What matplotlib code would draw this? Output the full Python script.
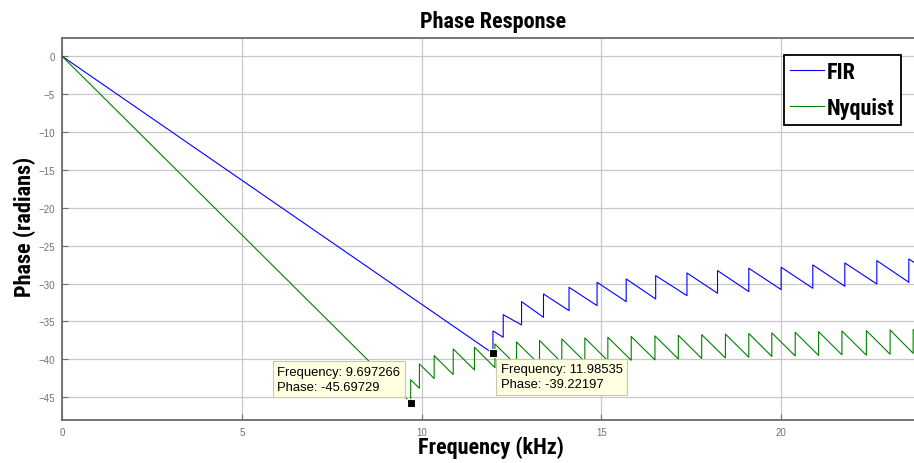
import matplotlib.pyplot as plt
from matplotlib import font_manager

# FIR: straight passband line, then sawtooth in the stopband
FIR_START = (0.0, 0.0)
FIR_JUMPS = [11.985, 12.27, 12.78, 13.39, 14.10, 14.88, 15.69, 16.51, 17.38, 18.23,
             19.10, 20.00, 20.88, 21.77, 22.66, 23.55]
FIR_LOWS = [-39.22, -37.08, -35.46, -34.45, -33.57, -32.91, -32.38, -32.03, -31.59, -31.28,
            -31.06, -30.80, -30.62, -30.35, -30.05, -29.83]
FIR_HIGHS = [-36.25, -34.10, -32.38, -31.37, -30.49, -29.83, -29.39, -28.95, -28.60, -28.29,
             -27.98, -27.85, -27.54, -27.28, -26.97, -26.75]
FIR_END = (24.0, -28.2)

# Nyquist filter
NYQ_START = (0.0, 0.0)
NYQ_JUMPS = [9.697, 9.94, 10.35, 10.88, 11.47, 12.04, 12.64, 13.28, 13.90, 14.54, 15.18, 15.83,
             16.49, 17.14, 17.79, 18.45, 19.10, 19.74, 20.39, 21.04, 21.69, 22.37, 23.03, 23.67]
NYQ_LOWS = [-45.70, -43.81, -42.53, -42.01, -41.40, -41.09, -40.80, -40.70, -40.45, -40.30,
            -40.18, -40.12, -40.07, -39.95, -39.88, -39.82, -39.72, -39.62, -39.55, -39.48,
            -39.40, -39.45, -39.33, -39.20]
NYQ_HIGHS = [-42.68, -40.60, -39.51, -38.62, -38.40, -37.97, -37.70, -37.50, -37.30, -37.17,
             -37.08, -36.98, -36.90, -36.82, -36.74, -36.66, -36.58, -36.50, -36.42, -36.34,
             -36.26, -36.20, -36.12, -36.08]
NYQ_END = (24.0, -37.6)

# data tips
TIP1 = (9.697266, -45.69729)
TIP2 = (11.98535, -39.22197)

X_TICKS = [0, 5, 10, 15, 20]
Y_TICKS = [0, -5, -10, -15, -20, -25, -30, -35, -40, -45]

# narrow bold font for title / labels / legend, if there is one
installed = {f.name for f in font_manager.fontManager.ttflist}
LABEL_FONT, LABEL_SIZE = 'DejaVu Sans', 12
for name in ['Roboto Condensed', 'Liberation Sans Narrow']:
    if name in installed:
        LABEL_FONT, LABEL_SIZE = name, 16
        break
TICK_FONT = ['Liberation Sans', 'DejaVu Sans']


def build_curve(start, jumps, lows, highs, end):
    xs = [start[0]]
    ys = [start[1]]
    for f, lo, hi in zip(jumps, lows, highs):
        xs += [f, f]
        ys += [lo, hi]
    xs.append(end[0])
    ys.append(end[1])
    return xs, ys


fig = plt.figure(figsize=(9.14, 4.64), dpi=100)
ax = fig.add_axes([62 / 914, 43 / 464, 863 / 914, 382 / 464])

fx, fy = build_curve(FIR_START, FIR_JUMPS, FIR_LOWS, FIR_HIGHS, FIR_END)
nx, ny = build_curve(NYQ_START, NYQ_JUMPS, NYQ_LOWS, NYQ_HIGHS, NYQ_END)
ax.plot(fx, fy, color='#0000ff', lw=0.8, label='FIR', zorder=3)
ax.plot(nx, ny, color='#008000', lw=0.8, label='Nyquist', zorder=3)

ax.set_xlim(0, 24)
ax.set_ylim(-48.0, 2.4)
ax.set_xticks(X_TICKS)
ax.set_yticks(Y_TICKS)
ax.tick_params(direction='in', length=4, color='#707070', labelcolor='#707070',
               labelsize=7, pad=5)
for lab in ax.get_xticklabels() + ax.get_yticklabels():
    lab.set_family(TICK_FONT)
ax.grid(True, color='#c8c8c8', lw=0.9)
ax.set_axisbelow(True)
for side in ['left', 'bottom', 'top']:
    ax.spines[side].set_color('#6a6a6a')
    ax.spines[side].set_linewidth(1.3)
ax.spines['right'].set_visible(False)

# title and labels
ax.set_title('Phase Response', family=LABEL_FONT, weight='bold', fontsize=LABEL_SIZE, pad=8)
ax.set_xlabel('Frequency (kHz)', family=LABEL_FONT, weight='bold', fontsize=LABEL_SIZE)
ax.xaxis.set_label_coords(0.497, -0.040)
ax.set_ylabel('Phase (radians)', family=LABEL_FONT, weight='bold', fontsize=LABEL_SIZE)
ax.yaxis.set_label_coords(-0.030, 0.507)

# legend
leg = ax.legend(loc='upper right', bbox_to_anchor=(901 / 914, 1 - 56 / 464),
                bbox_transform=fig.transFigure, fancybox=False, framealpha=1,
                edgecolor='black', borderaxespad=0, handlelength=1.5, handletextpad=0.15,
                labelspacing=0.6, borderpad=0.28,
                prop={'family': LABEL_FONT, 'weight': 'bold', 'size': LABEL_SIZE})
leg.get_frame().set_linewidth(1.3)

# data tips
tip_box = dict(boxstyle='square,pad=0.35', fc='#ffffe1', ec='#c8c8b0', lw=0.8)
ax.annotate('Frequency: %.6f\nPhase: %.5f' % TIP1, xy=TIP1, xytext=(-10.5, 10),
            textcoords='offset pixels', ha='right', va='bottom', multialignment='left',
            fontsize=9.4, linespacing=1.3, family=TICK_FONT, bbox=tip_box, zorder=5)
ax.annotate('Frequency: %.5f\nPhase: %.5f' % TIP2, xy=TIP2, xytext=(8, -10),
            textcoords='offset pixels', ha='left', va='top', multialignment='left',
            fontsize=9.4, linespacing=1.3, family=TICK_FONT, bbox=tip_box, zorder=5)
ax.plot([TIP1[0], TIP2[0]], [TIP1[1], TIP2[1]], ls='none', marker='s', ms=5.5,
        mfc='black', mec='#ffffe1', mew=0.8, zorder=6)

fig.savefig('out.png', dpi=100)
